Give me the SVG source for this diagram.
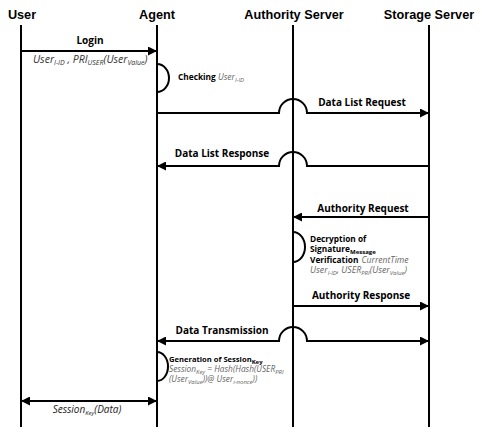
<svg xmlns="http://www.w3.org/2000/svg" width="482" height="433" viewBox="0 0 482 433">
<style>
.hdr{font-family:"Liberation Sans",Arial,sans-serif;font-weight:bold;font-size:12.7px;fill:#000;text-anchor:middle}
.lbl{font-family:"Open Sans","Noto Sans",sans-serif;font-weight:bold;font-size:10px;fill:#000}
.note{font-family:"Open Sans","Noto Sans",sans-serif;font-weight:bold;font-size:8.3px;fill:#000}
.it{font-family:"Open Sans","Noto Sans",sans-serif;font-style:italic;font-weight:normal;fill:#666}
.sub{font-size:6px}
.life{stroke:#000;stroke-width:2;fill:none}
.msg{stroke:#000;stroke-width:2;fill:none}
.mid{text-anchor:middle}
</style>
<defs>
<marker id="ah" markerUnits="userSpaceOnUse" markerWidth="10" markerHeight="9" refX="9" refY="4.5" orient="auto-start-reverse">
<path d="M0,0 L9,4.5 L0,9 z" fill="#000"/>
</marker>
</defs>
<rect width="482" height="433" fill="#fff"/>
<g id="user">
<text class="hdr" x="22" y="19">User</text>
<line class="life" x1="21" y1="25" x2="21" y2="427"/>
</g>
<g id="agent">
<text class="hdr" x="157" y="19">Agent</text>
<line class="life" x1="157" y1="25" x2="157" y2="427"/>
</g>
<g id="authority">
<text class="hdr" x="294" y="19">Authority Server</text>
<line class="life" x1="293" y1="25" x2="293" y2="427"/>
</g>
<g id="storage">
<text class="hdr" x="429" y="19">Storage Server</text>
<line class="life" x1="429" y1="25" x2="429" y2="427"/>
</g>
<g id="connectors">
<path class="msg" d="M21,51 H157" marker-end="url(#ah)"/>
<path class="msg" d="M157,64 A12,14 0 0 1 157,92"/>
<path class="msg" d="M157,113 H279 A14,14 0 0 1 307,113 H429" marker-end="url(#ah)"/>
<path class="msg" d="M429,166 H307 A14,14 0 0 0 279,166 H157" marker-end="url(#ah)"/>
<path class="msg" d="M429,217 H293" marker-end="url(#ah)"/>
<path class="msg" d="M293,232 A12,15 0 0 1 293,262"/>
<path class="msg" d="M293,306 H429" marker-end="url(#ah)"/>
<path class="msg" d="M429,341 H307 A14,14 0 0 0 279,341 H157" marker-start="url(#ah)" marker-end="url(#ah)"/>
<path class="msg" d="M157,352 A11,14.5 0 0 1 157,381"/>
<path class="msg" d="M21,401 H157" marker-start="url(#ah)" marker-end="url(#ah)"/>
</g>
<g id="labels">
<text class="lbl mid" x="90" y="44">Login</text>
<text class="it" x="33" y="63" font-size="10.5" style="fill:#333">User<tspan font-size="7" dy="2">I-ID</tspan><tspan dy="-2"> , PRI</tspan><tspan font-size="7" dy="2">USER</tspan><tspan dy="-2">(User</tspan><tspan font-size="7" dy="2">Value</tspan><tspan dy="-2">)</tspan></text>
<text class="note" x="178" y="80">Checking <tspan class="it" font-size="8.5">User</tspan><tspan class="it sub" dy="2">I-ID</tspan></text>
<text class="lbl mid" x="362" y="106">Data List Request</text>
<text class="lbl mid" x="222" y="157">Data List Response</text>
<text class="lbl mid" x="363" y="212">Authority Request</text>
<text class="note" x="310" y="242">Decryption of</text>
<text class="note" x="310" y="252">Signature<tspan class="sub" dy="2">Message</tspan></text>
<text class="note" x="310" y="263">Verification <tspan class="it" font-size="8.6" dx="1">CurrentTime</tspan></text>
<text class="it" x="310" y="273" font-size="8.8">User<tspan class="sub" dy="2">I-ID</tspan><tspan dy="-2">, USER</tspan><tspan class="sub" dy="2">PRI</tspan><tspan dy="-2">(User</tspan><tspan class="sub" dy="2">Value</tspan><tspan dy="-2">)</tspan></text>
<text class="lbl mid" x="361" y="299">Authority Response</text>
<text class="lbl mid" x="222" y="334">Data Transmission</text>
<text class="note" x="169" y="362" font-size="7.6" style="font-size:7.6px">Generation of Session<tspan class="sub" dy="2">Key</tspan></text>
<text class="it" x="169" y="372" font-size="8.3">Session<tspan class="sub" dy="2">Key</tspan><tspan dy="-2"> = Hash(Hash(USER</tspan><tspan class="sub" dy="2">PRI</tspan></text>
<text class="it" x="169" y="382" font-size="8.3">(User<tspan class="sub" dy="2">Value</tspan><tspan dy="-2">))@ User</tspan><tspan class="sub" dy="2">i-nonce</tspan><tspan dy="-2">))</tspan></text>
<text class="it mid" x="87" y="413" font-size="10" style="fill:#222">Session<tspan class="sub" dy="2">Key</tspan><tspan dy="-2">(Data)</tspan></text>
</g>
</svg>
